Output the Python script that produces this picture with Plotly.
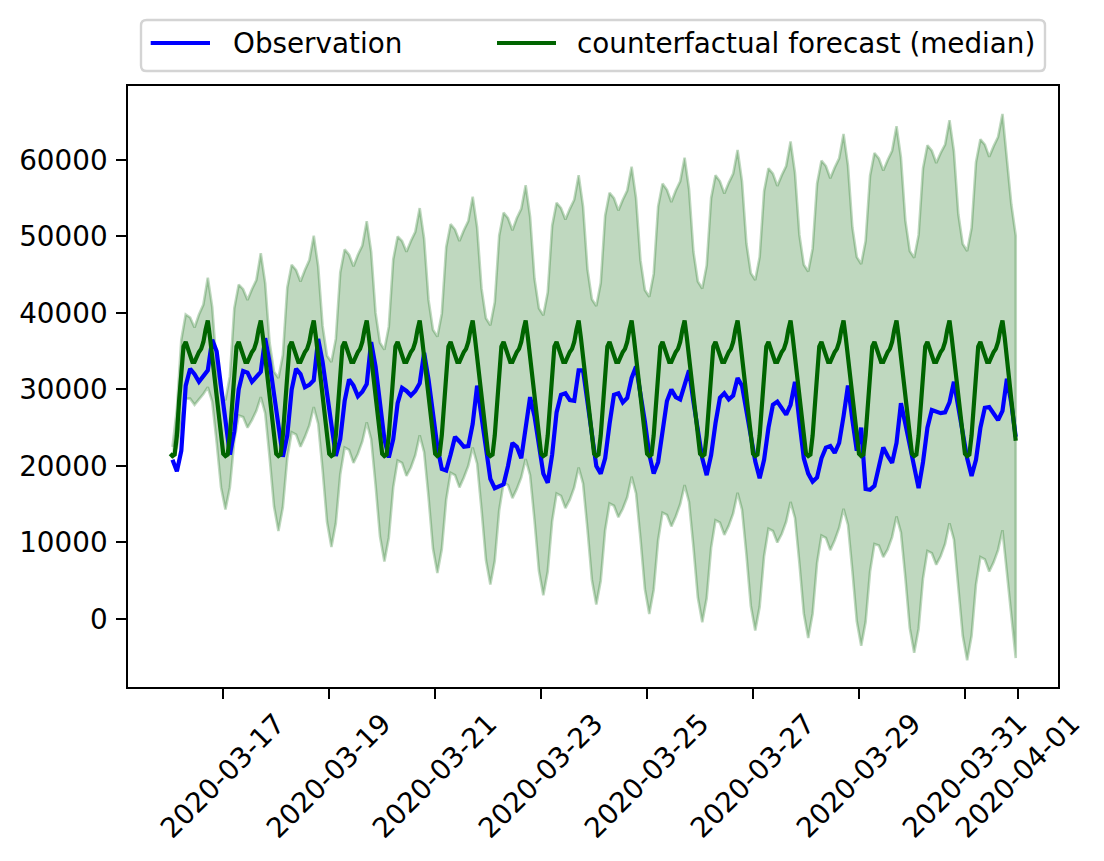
import pandas as pd
import plotly.graph_objects as go

# ------------------------------
# data
# ------------------------------
# counterfactual median, one value per hour (00:00 .. 23:00); identical every day
median_day = [21600, 21300, 21500, 24000, 28500, 33000, 35600, 36200, 35300, 34200, 33600, 33600,
              34400, 34900, 35300, 36200, 37800, 39000, 36800, 34100, 31400, 28700, 26000, 23300]
n_days = 16

# observation, every 2 hours (01:00, 03:00, ... 23:00), one row per day from 2020-03-16
obs_days = [
    [20800, 19300, 22000, 30500, 32700, 32000, 31000, 31800, 32500, 36500, 35000, 30400],
    [25800, 21500, 24500, 30000, 32400, 32200, 31000, 31700, 32300, 36700, 33500, 29400],
    [25300, 21200, 24000, 30000, 32700, 32000, 30300, 30600, 31200, 36600, 33600, 29400],
    [25200, 21300, 23500, 28500, 31300, 30500, 29100, 29700, 30700, 36200, 33000, 28000],
    [23500, 21100, 23500, 28200, 30200, 29800, 29200, 29800, 30800, 34800, 31300, 26900],
    [22500, 19600, 19400, 21500, 23800, 23200, 22500, 22600, 25500, 30500, 26600, 22700],
    [18300, 17100, 17300, 17600, 20000, 23000, 22500, 21000, 25000, 29000, 26500, 23000],
    [19000, 17800, 21500, 27000, 29300, 29500, 28600, 28500, 32500, 32500, 28000, 24000],
    [20000, 19000, 21000, 25500, 29300, 29500, 28300, 28900, 31500, 33000, 29500, 25800],
    [21500, 19000, 20500, 24500, 28500, 30000, 29000, 28700, 30500, 32500, 28400, 24700],
    [21000, 18800, 21400, 25600, 28900, 29500, 28700, 29200, 31500, 30500, 27200, 23900],
    [20600, 18400, 20800, 25000, 28000, 28400, 27500, 26700, 28000, 31000, 25800, 21000],
    [19000, 17950, 18500, 21000, 22400, 22600, 21700, 23000, 26500, 30500, 26000, 22000],
    [25000, 17000, 16900, 17400, 19900, 22400, 21300, 20400, 23000, 28200, 25500, 22700],
    [19800, 17100, 20500, 25000, 27300, 27100, 26900, 27000, 28300, 31000, 27700, 24400],
    [21000, 18700, 20800, 25000, 27600, 27700, 26900, 26000, 27200, 31400, 28200, 23800],
]

# forecast interval, same 2-hour grid
upper_days = [
    [22500, 27500, 36500, 39800, 39400, 38100, 39800, 41100, 44600, 40800, 33100, 29400],
    [28600, 31700, 40600, 43700, 43100, 41700, 43100, 44300, 47800, 43900, 36100, 32300],
    [31500, 34500, 43300, 46300, 45600, 44100, 45600, 46900, 50100, 46100, 38300, 34400],
    [33600, 36600, 45300, 48300, 47600, 46100, 47600, 48800, 52000, 48000, 40000, 36100],
    [35200, 38200, 47000, 50000, 49400, 48000, 49400, 50600, 53700, 49700, 41700, 37800],
    [36900, 39900, 48600, 51600, 50900, 49400, 50800, 52000, 55200, 51200, 43200, 39300],
    [38400, 41400, 50100, 53100, 52400, 50800, 52400, 53600, 56700, 52600, 44500, 40600],
    [39700, 42700, 51400, 54400, 53700, 52200, 53600, 54800, 58000, 53900, 45700, 41800],
    [40900, 43900, 52700, 55700, 55000, 53400, 54800, 56000, 59100, 55000, 46900, 43000],
    [42100, 45100, 53900, 56900, 56100, 54500, 56000, 57200, 60300, 56200, 48000, 44100],
    [43200, 46200, 55000, 58000, 57200, 55600, 57000, 58200, 61300, 57200, 49100, 45200],
    [44300, 47300, 55900, 58900, 58200, 56600, 58000, 59200, 62400, 58300, 50200, 46300],
    [45400, 48400, 56900, 59900, 59200, 57600, 59000, 60200, 63400, 59300, 51200, 47300],
    [46400, 49400, 57900, 60900, 60200, 58600, 60000, 61200, 64400, 60300, 52100, 48100],
    [47200, 50200, 58900, 61900, 61200, 59600, 60900, 62000, 65200, 61100, 52900, 49000],
    [48100, 51100, 59700, 62700, 62000, 60400, 61800, 63000, 66000, 60000, 54200, 50100],
]
lower_days = [
    [21000, 22500, 25800, 28800, 28800, 28000, 28700, 29400, 30300, 28400, 23100, 17200],
    [14300, 17200, 23300, 26600, 26400, 25000, 26000, 27200, 29000, 26900, 21100, 14700],
    [11500, 14600, 21000, 24400, 24100, 22500, 23800, 25300, 27700, 25500, 19500, 12700],
    [9400, 12500, 18900, 22400, 22100, 20400, 21600, 23200, 25700, 23500, 17500, 10800],
    [7500, 10600, 17200, 20700, 20400, 18700, 19800, 21400, 24000, 21800, 15900, 9200],
    [6000, 9100, 15600, 19100, 18800, 17200, 18500, 20000, 22400, 20300, 14300, 7700],
    [4500, 7600, 14200, 17800, 17500, 15800, 17000, 18500, 20900, 18800, 12900, 6300],
    [3100, 6200, 12800, 16400, 16100, 14500, 15600, 17200, 19800, 17700, 11700, 5100],
    [1900, 5000, 11600, 15100, 14800, 13300, 14400, 15900, 18600, 16400, 10500, 3900],
    [650, 3800, 10300, 13900, 13600, 12100, 13400, 15000, 17500, 15300, 9400, 2800],
    [-430, 2700, 9300, 12900, 12600, 11000, 12200, 13800, 16500, 14300, 8400, 1700],
    [-1500, 1600, 8200, 11800, 11500, 10000, 11100, 12700, 15300, 13200, 7300, 700],
    [-2500, 700, 7300, 10900, 10600, 9000, 10300, 11900, 14400, 12300, 6300, -300],
    [-3500, -400, 6200, 9800, 9600, 8100, 9100, 10700, 13400, 11300, 5400, -1200],
    [-4400, -1300, 5300, 8900, 8600, 7100, 8200, 9800, 12500, 10400, 4400, -2200],
    [-5400, -2200, 4500, 8100, 7800, 6200, 7400, 9000, 11600, 6000, 500, -5100],
]

y_ticks = [0, 10000, 20000, 30000, 40000, 50000, 60000]
x_ticks = ["2020-03-17", "2020-03-19", "2020-03-21", "2020-03-23", "2020-03-25",
           "2020-03-27", "2020-03-29", "2020-03-31", "2020-04-01"]

# ------------------------------
# build series
# ------------------------------
t_hourly = pd.date_range("2020-03-16 00:00", periods=24 * n_days, freq="h")
t_2h = pd.date_range("2020-03-16 01:00", periods=12 * n_days, freq="2h")

median = median_day * n_days
obs = [v for day in obs_days for v in day]
upper = [v for day in upper_days for v in day]
lower = [v for day in lower_days for v in day]

FONT = "DejaVu Sans"
FS = 27.8
W, H = 1104, 861
L, R, T, B = 128, 1058, 86, 687  # axes box in pixels


def px_x(px):
    return (px - L) / (R - L)


def px_y(py):
    return (B - py) / (B - T)


fig = go.Figure()

# interval as one closed polygon (like fill_between)
band_x = list(t_2h) + list(t_2h[::-1])
band_y = upper + lower[::-1]
fig.add_trace(go.Scatter(
    x=band_x, y=band_y, fill="toself", mode="lines",
    fillcolor="rgba(0,100,0,0.25)", line=dict(color="rgba(0,100,0,0.25)", width=2.6),
    hoverinfo="skip", showlegend=False,
))
fig.add_trace(go.Scatter(
    x=t_2h, y=obs, mode="lines", name="Observation",
    line=dict(color="blue", width=4.2), showlegend=False,
))
fig.add_trace(go.Scatter(
    x=t_hourly, y=median, mode="lines", name="counterfactual forecast (median)",
    line=dict(color="darkgreen", width=4.2), showlegend=False,
))

# ------------------------------
# legend drawn by hand (matplotlib style box above the axes)
# ------------------------------
bx0, bx1, by0, by1, rad = 141, 1045, 20, 71, 5.6
rx, ry = rad / (R - L), rad / (B - T)
x0, x1, y0, y1 = px_x(bx0), px_x(bx1), px_y(by1), px_y(by0)
box_path = (f"M {x0 + rx} {y0} L {x1 - rx} {y0} Q {x1} {y0} {x1} {y0 + ry} "
            f"L {x1} {y1 - ry} Q {x1} {y1} {x1 - rx} {y1} "
            f"L {x0 + rx} {y1} Q {x0} {y1} {x0} {y1 - ry} "
            f"L {x0} {y0 + ry} Q {x0} {y0} {x0 + rx} {y0} Z")
shapes = [dict(type="path", xref="paper", yref="paper", path=box_path,
               fillcolor="white", line=dict(color="#d4d4d4", width=2.4), layer="above")]
legend_items = [("Observation", "blue", 150.7, 210, 231),
                ("counterfactual forecast (median)", "darkgreen", 497, 556, 575)]
annotations = []
ly = px_y(43)
for label, color, hx0, hx1, tx in legend_items:
    shapes.append(dict(type="line", xref="paper", yref="paper", x0=px_x(hx0), x1=px_x(hx1),
                       y0=ly, y1=ly, line=dict(color=color, width=4.2), layer="above"))
    annotations.append(dict(text=label, xref="paper", yref="paper", x=px_x(tx), y=ly,
                            xanchor="left", yanchor="middle", showarrow=False,
                            font=dict(family=FONT, size=FS, color="black")))

# rotated x tick labels centred on their ticks (matplotlib rotation=45)
for d in x_ticks:
    annotations.append(dict(text=d, x=d, xref="x", y=0, yref="paper", yshift=-17,
                            textangle=-45, xanchor="center", yanchor="top", showarrow=False,
                            font=dict(family=FONT, size=FS, color="black")))

fig.update_layout(
    width=W, height=H,
    margin=dict(l=L, r=W - R, t=T, b=H - B, pad=0),
    paper_bgcolor="white", plot_bgcolor="white",
    font=dict(family=FONT, size=FS, color="black"),
    shapes=shapes, annotations=annotations,
    showlegend=False,
)
fig.update_xaxes(
    type="date", range=["2020-03-15 04:51", "2020-04-01 18:09"],
    tickvals=x_ticks, showticklabels=False,
    ticks="outside", ticklen=9.7, tickwidth=2.2, tickcolor="black",
    showline=True, linecolor="black", linewidth=2.2, mirror=True,
    showgrid=False, zeroline=False,
)
fig.update_yaxes(
    range=[-8890, 69660], tickvals=y_ticks, ticktext=[str(v) for v in y_ticks],
    ticks="outside", ticklen=9.7, tickwidth=2.2, tickcolor="black",
    tickfont=dict(family=FONT, size=FS, color="black"), ticklabelstandoff=3,
    showline=True, linecolor="black", linewidth=2.2, mirror=True,
    showgrid=False, zeroline=False,
)

fig.write_html("out.html", config={"displayModeBar": False},
               post_script="document.body.style.margin='0';")
